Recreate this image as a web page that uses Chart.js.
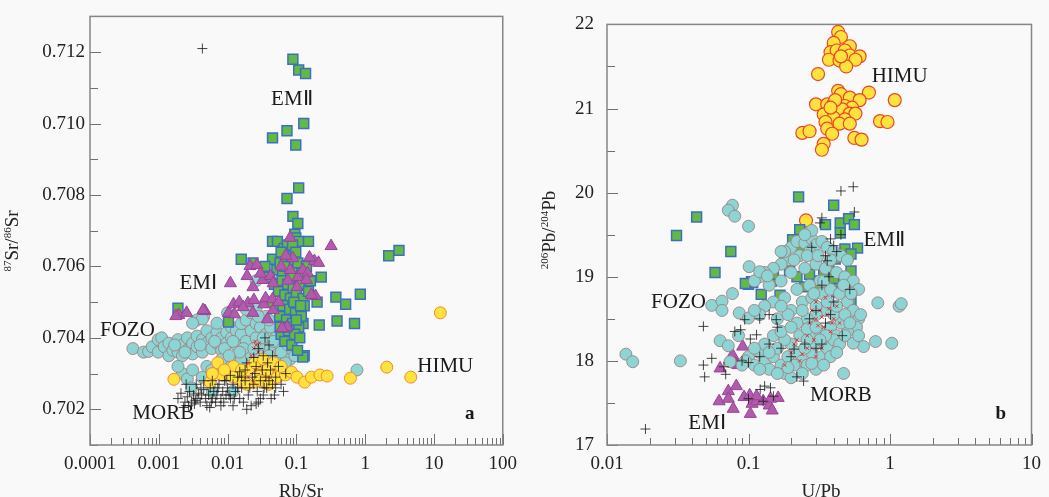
<!DOCTYPE html>
<html>
<head>
<meta charset="utf-8">
<script src="https://cdn.jsdelivr.net/npm/chart.js@4.4.1/dist/chart.umd.min.js"></script>
<style>
  html, body { margin: 0; padding: 0; background: #f9f9f9; }
  #wrap { position: relative; width: 1049px; height: 497px; overflow: hidden; }
  canvas { position: absolute; top: 0; }
</style>
</head>
<body>
<div id="wrap">
  <canvas id="srChart" width="525" height="497" style="left:0"></canvas>
  <canvas id="pbChart" width="524" height="497" style="left:525px"></canvas>
</div>
<script>
// ---- panel a : Rb/Sr vs 87Sr/86Sr ----
const srXTicks = [0.0001, 0.001, 0.01, 0.1, 1, 10, 100];
const srYTicks = [0.702, 0.704, 0.706, 0.708, 0.710, 0.712];

const srEM2 = [
  [0.089,0.7118],[0.108,0.7115],[0.136,0.7114],[0.128,0.7100],[0.073,0.7098],[0.045,0.7096],[0.098,0.7094],
  [0.108,0.7082],[0.073,0.7079],[0.089,0.7074],[0.105,0.7072],[0.095,0.7069],[0.098,0.7068],[0.045,0.7067],
  [0.053,0.7067],[0.108,0.7067],[0.150,0.7067],[0.0158,0.7062],[0.0234,0.7061],[2.2,0.7063],[3.1,0.70645],
  [0.23,0.7057],[0.375,0.70514],[0.52,0.70494],[0.85,0.70522],[0.39,0.70447],[0.70,0.7044],[0.215,0.70436],
  [0.125,0.7044],[0.0103,0.70444],[0.0019,0.70483],[0.20,0.7050],[0.13,0.7035],[0.124,0.70346],[0.105,0.70413],
  [0.045,0.7062],[0.052,0.7059],[0.058,0.7061],[0.063,0.7058],[0.07,0.7062],[0.078,0.7060],[0.085,0.7063],
  [0.095,0.7059],[0.105,0.7061],[0.12,0.7058],[0.048,0.7055],[0.055,0.7053],[0.062,0.7056],[0.068,0.7052],
  [0.075,0.7055],[0.082,0.7051],[0.09,0.7054],[0.1,0.7052],[0.11,0.7055],[0.125,0.7051],[0.05,0.7049],
  [0.057,0.7046],[0.064,0.7049],[0.072,0.7045],[0.08,0.7048],[0.088,0.7044],[0.097,0.7047],[0.108,0.7043],
  [0.118,0.7046],[0.13,0.7049],[0.06,0.7041],[0.068,0.7039],[0.077,0.7042],[0.086,0.7038],[0.094,0.7041],
  [0.104,0.70365],[0.112,0.7040],[0.066,0.7065],[0.074,0.7066],[0.088,0.7066],[0.098,0.7064],[0.06,0.7064],
  [0.04,0.7057],[0.042,0.7050],[0.15,0.7053],[0.14,0.7060],[0.16,0.7056],[0.035,0.7060],
  [0.067,0.7060],[0.083,0.7057],[0.092,0.7050],[0.072,0.7043],[0.1,0.7045],[0.115,0.7049],[0.058,0.7043]
];
const srEM1 = [
  [0.081,0.7068],[0.32,0.70657],[0.0212,0.70601],[0.0267,0.70604],[0.011,0.70553],[0.0192,0.70573],
  [0.0234,0.70542],[0.0324,0.70562],[0.042,0.70573],[0.046,0.70553],[0.089,0.70623],[0.081,0.7059],
  [0.105,0.7057],[0.124,0.7059],[0.146,0.70581],[0.183,0.70615],[0.21,0.7061],[0.102,0.70542],[0.14,0.70562],
  [0.19,0.70517],[0.00195,0.70464],[0.00254,0.7047],[0.0047,0.70475],[0.0103,0.7047],[0.0126,0.70466],
  [0.0122,0.70494],[0.0148,0.705],[0.0198,0.70497],[0.0241,0.70506],[0.0335,0.70494],[0.0357,0.70511],
  [0.045,0.70508],[0.0234,0.7047],[0.046,0.70478],[0.038,0.70452],[0.073,0.7043],[0.0169,0.70486],
  [0.0044,0.70478],[0.00177,0.70461],[0.155,0.70625],[0.062,0.70427],[0.165,0.7052],[0.03,0.7058],
  [0.06,0.7060],[0.075,0.7056],[0.07,0.7063],[0.055,0.7050]
];
const srFOZO = [
  [0.00042,0.7037],[0.0006,0.7036],[0.00071,0.70362],[0.0008,0.70375],[0.00098,0.70395],[0.00098,0.7036],
  [0.0011,0.7040],[0.0012,0.70375],[0.0014,0.70385],[0.0014,0.7035],[0.0016,0.70365],[0.0019,0.70395],
  [0.0019,0.7036],[0.0022,0.7038],[0.0022,0.7035],[0.0026,0.70365],[0.0026,0.7040],[0.0031,0.70385],
  [0.0031,0.70355],[0.0036,0.70375],[0.0036,0.70405],[0.0043,0.70395],[0.0043,0.7036],[0.005,0.70385],
  [0.005,0.7042],[0.0059,0.704],[0.0059,0.7037],[0.007,0.70415],[0.007,0.70385],[0.0082,0.7040],
  [0.0082,0.70365],[0.0097,0.70415],[0.0097,0.70385],[0.0114,0.7043],[0.0114,0.704],[0.0134,0.7042],
  [0.0134,0.7038],[0.0158,0.7041],[0.0158,0.7044],[0.0186,0.7039],[0.0186,0.7045],[0.022,0.7042],
  [0.022,0.7047],[0.026,0.7040],[0.026,0.7044],[0.03,0.7043],[0.03,0.7038],[0.036,0.7041],[0.036,0.7046],
  [0.042,0.7043],[0.042,0.7037],[0.05,0.704],[0.05,0.7035],[0.058,0.7038],[0.069,0.7036],[0.081,0.7034],
  [0.095,0.7035],[0.01,0.7047],[0.0036,0.7045],[0.0045,0.7046],[0.0022,0.7030],[0.0019,0.7032],
  [0.0026,0.70285],[0.0031,0.7031],[0.0043,0.7029],[0.005,0.7032],[0.0059,0.7031],[0.007,0.70305],
  [0.0097,0.7030],[0.0134,0.7031],[0.0186,0.7031],[0.026,0.70325],[0.036,0.7033],[0.05,0.7032],
  [0.069,0.7033],[0.0114,0.70335],[0.0158,0.7034],[0.022,0.7035],[0.03,0.7035],[0.0082,0.7034],
  [0.76,0.7031],[0.003,0.7026],[0.006,0.7025],[0.012,0.7025],[0.026,0.7056],[0.0186,0.7048],
  [0.026,0.7048],[0.0043,0.70453],[0.0031,0.70441],[0.007,0.70441],
  [0.0017,0.7038],[0.0024,0.7036],[0.004,0.7038],[0.0065,0.7039],[0.009,0.7037],[0.012,0.7039],
  [0.017,0.7037],[0.024,0.7037],[0.033,0.7040],[0.046,0.7039],[0.06,0.7036],[0.075,0.7038],[0.04,0.7035],
  [0.015,0.7036],[0.0105,0.7035],[0.028,0.7046],[0.04,0.7045]
];
const srHIMU = [
  [0.00166,0.70284],[0.0072,0.7033],[0.0056,0.70276],[0.0122,0.7032],[0.0082,0.70296],[0.0158,0.7028],
  [0.0234,0.70324],[0.029,0.7033],[0.042,0.70324],[0.03,0.7030],[0.045,0.7030],[0.026,0.70276],
  [0.036,0.70276],[0.053,0.7029],[0.069,0.70296],[0.085,0.70304],[0.102,0.7029],[0.132,0.70276],
  [0.165,0.7029],[0.22,0.70296],[0.28,0.70293],[0.61,0.70287],[2.06,0.70318],[4.6,0.7029],[12.4,0.7047],
  [0.02,0.7031],[0.025,0.7033],[0.033,0.7034],[0.038,0.7031],[0.047,0.7033],[0.016,0.7031],[0.012,0.7029],
  [0.009,0.7031],[0.006,0.7030],[0.03,0.7028],[0.04,0.7027],[0.06,0.7032],[0.019,0.7027]
];
const srMORB = [
  [0.0019,0.7023],[0.0021,0.70245],[0.0024,0.7022],[0.0026,0.70235],[0.0028,0.7025],[0.003,0.7022],
  [0.0032,0.7024],[0.0034,0.70225],[0.0036,0.7023],[0.0038,0.70245],[0.004,0.7022],[0.0042,0.7024],
  [0.0045,0.70255],[0.0048,0.7023],[0.005,0.7021],[0.0053,0.7024],[0.0056,0.7026],[0.006,0.7023],
  [0.0063,0.7025],[0.0067,0.7022],[0.007,0.7024],[0.0075,0.7027],[0.008,0.7023],[0.0085,0.7025],
  [0.009,0.7028],[0.0095,0.7024],[0.01,0.7026],[0.011,0.7023],[0.012,0.7027],[0.013,0.7025],[0.014,0.7029],
  [0.015,0.7023],[0.016,0.7026],[0.018,0.7028],[0.02,0.7024],[0.022,0.7021],[0.024,0.7027],[0.025,0.7030],
  [0.027,0.7025],[0.03,0.7028],[0.032,0.7031],[0.034,0.7026],[0.036,0.7029],[0.038,0.7033],[0.04,0.7028],
  [0.042,0.7031],[0.045,0.7027],[0.048,0.7024],[0.05,0.7029],[0.055,0.7032],[0.033,0.7035],[0.028,0.7037],
  [0.04,0.7038],[0.045,0.7035],[0.035,0.7040],[0.024,0.70345],[0.0035,0.7027],[0.0045,0.7028],[0.006,0.7028],
  [0.0025,0.7027],[0.0023,0.70205],[0.017,0.7022],[0.019,0.7020],[0.026,0.70215],[0.012,0.7021],
  [0.008,0.7021],[0.0055,0.70205],[0.03,0.7023],[0.0043,0.7121],[0.06,0.7027],[0.07,0.7030],[0.026,0.7032],
  [0.018,0.7031],[0.015,0.70305],[0.011,0.70295],
  [0.0027,0.7021],[0.0033,0.70215],[0.0041,0.7026],[0.0058,0.7022],[0.0072,0.7026],[0.0088,0.7022],
  [0.0105,0.7024],[0.0125,0.7023],[0.014,0.7026],[0.021,0.7026],[0.023,0.7029],[0.028,0.7022],[0.033,0.7024],
  [0.037,0.7026],[0.043,0.7023],[0.05,0.7026],[0.065,0.7025],[0.019,0.7033],[0.016,0.7029],[0.0095,0.7028]
];
const srRed = [
  [0.022,0.7035],[0.024,0.7037],[0.025,0.7039],[0.027,0.7034],[0.028,0.7036],[0.03,0.7033],[0.026,0.7031],
  [0.032,0.7030],[0.035,0.7029],[0.04,0.70285],[0.045,0.7028],[0.05,0.70282],[0.023,0.7032],[0.02,0.7029],
  [0.06,0.7029],[0.015,0.7028],[0.026,0.7038],[0.029,0.70385],[0.024,0.7034]
];

// ---- panel b : U/Pb vs 206Pb/204Pb ----
const pbXTicks = [0.01, 0.1, 1, 10];
const pbYTicks = [17, 18, 19, 20, 21, 22];

const pbEM2 = [
  [0.043,19.71],[0.031,19.49],[0.075,19.30],[0.058,19.05],[0.10,18.91],[0.107,18.93],[0.123,18.79],
  [0.145,18.95],[0.226,19.95],[0.40,19.85],[0.23,19.56],[0.205,19.44],[0.25,19.45],[0.35,19.62],
  [0.445,19.64],[0.51,19.69],[0.56,19.62],[0.445,19.52],[0.235,19.30],[0.48,19.33],[0.59,19.34],
  [0.53,19.27],[0.41,19.21],[0.18,19.16],[0.15,19.03],[0.195,19.07],[0.22,19.00],[0.105,18.94],
  [0.095,18.92],[0.29,18.95],[0.34,18.86],[0.30,18.86],[0.44,18.94],[0.53,19.07],[0.167,18.78],
  [0.25,18.88],[0.27,19.03],[0.34,19.06],[0.40,18.98],[0.53,18.73],[0.42,18.82],[0.47,18.84],[0.37,19.12]
];
const pbEM1 = [
  [0.091,18.17],[0.077,18.03],[0.084,17.95],[0.063,17.91],[0.081,17.99],[0.072,17.64],[0.082,17.70],
  [0.062,17.52],[0.072,17.55],[0.078,17.43],[0.093,17.57],[0.102,17.59],[0.106,17.49],[0.114,17.52],
  [0.127,17.52],[0.14,17.47],[0.147,17.41],[0.162,17.56],[0.103,17.37],[0.143,17.55],[0.114,17.58],
  [0.077,18.07],[0.08,17.97]
];
const pbFOZO = [
  [0.2,19.35],[0.22,19.42],[0.25,19.4],[0.28,19.45],[0.3,19.38],[0.33,19.42],[0.36,19.35],[0.4,19.3],
  [0.45,19.25],[0.5,19.2],[0.27,19.3],[0.23,19.25],[0.19,19.2],[0.17,19.15],[0.15,19.1],[0.13,19.05],
  [0.12,19.0],[0.11,18.95],[0.14,18.9],[0.17,18.95],[0.2,19.05],[0.25,19.1],[0.3,19.15],[0.35,19.1],
  [0.42,19.05],[0.48,19.0],[0.55,18.95],[0.32,18.95],[0.27,18.9],[0.22,18.85],[0.18,18.75],[0.15,18.7],
  [0.13,18.65],[0.12,18.55],[0.16,18.5],[0.2,18.6],[0.24,18.7],[0.28,18.75],[0.33,18.8],[0.38,18.85],
  [0.44,18.8],[0.5,18.7],[0.55,18.6],[0.6,18.5],[0.58,18.4],[0.5,18.35],[0.45,18.45],[0.4,18.55],
  [0.35,18.6],[0.3,18.55],[0.26,18.5],[0.22,18.45],[0.27,18.3],[0.32,18.35],[0.38,18.4],[0.42,18.3],
  [0.48,18.55],[0.52,18.45],[0.36,18.7],[0.3,18.65],
  [0.1,18.05],[0.11,17.95],[0.12,18.1],[0.13,18.0],[0.14,17.9],[0.15,18.05],[0.16,18.15],[0.17,17.95],
  [0.18,17.85],[0.19,18.05],[0.2,18.2],[0.22,18.1],[0.24,18.0],[0.26,17.95],[0.28,18.1],[0.3,18.2],
  [0.33,18.05],[0.36,18.15],[0.4,18.25],[0.44,18.2],[0.48,18.3],[0.3,17.9],[0.24,17.85],[0.2,17.8],
  [0.16,17.85],[0.13,18.2],[0.11,18.15],[0.095,18.0],[0.09,17.95],[0.18,18.25],[0.23,18.3],[0.26,18.25],
  [0.35,18.3],[0.32,18.25],[0.25,18.15],
  [0.0136,18.08],[0.0152,17.99],[0.033,18.0],[0.077,19.85],[0.072,19.79],[0.08,19.72],[0.10,19.6],
  [0.055,18.66],[0.065,18.71],[0.065,18.6],[0.077,18.8],[0.063,18.24],[0.072,18.18],[0.086,18.57],
  [0.10,18.51],[0.11,18.6],[0.101,19.12],[0.12,19.06],[0.136,19.01],[0.074,17.99],[0.47,17.85],
  [0.79,18.23],[1.03,18.21],[0.65,18.17],[0.55,18.21],[1.16,18.65],[1.2,18.68],[0.82,18.69],[0.18,19.3],
  [0.17,19.3],[0.28,19.55],[0.25,19.5],[0.6,18.85],[0.62,18.55],[0.6,18.3],[0.085,18.3],
  [0.21,19.2],[0.26,19.25],[0.31,19.25],[0.38,19.2],[0.34,18.95],[0.29,18.8],[0.24,18.6],[0.19,18.55],
  [0.17,18.65],[0.42,18.65],[0.47,18.9],[0.53,18.8],[0.15,18.3],[0.17,18.35],[0.2,18.4],[0.14,18.1],
  [0.21,17.95],[0.28,17.97],[0.38,18.05],[0.42,18.1],[0.34,17.95],[0.26,18.38],[0.3,18.4],[0.12,17.9],
  [0.19,17.92]
];
const pbHIMU = [
  [0.43,21.91],[0.45,21.85],[0.40,21.78],[0.52,21.74],[0.38,21.67],[0.42,21.69],[0.48,21.69],[0.52,21.63],
  [0.61,21.62],[0.37,21.58],[0.44,21.57],[0.57,21.58],[0.49,21.50],[0.31,21.41],[0.45,21.62],
  [0.43,21.21],[0.45,21.17],[0.52,21.13],[0.71,21.19],[1.08,21.10],[0.61,21.10],[0.30,21.05],[0.36,21.05],
  [0.40,21.06],[0.48,21.03],[0.54,21.01],[0.39,20.98],[0.46,20.99],[0.34,20.93],[0.52,20.94],[0.57,20.94],
  [0.40,20.89],[0.48,20.87],[0.35,20.84],[0.44,20.82],[0.52,20.82],[0.85,20.85],[0.96,20.84],[0.36,20.76],
  [0.39,20.70],[0.24,20.71],[0.27,20.73],[0.56,20.65],[0.63,20.63],[0.34,20.58],[0.33,20.51],[0.41,21.10],
  [0.38,21.01],[0.255,19.67]
];
const pbMORB = [
  [0.45,20.02],[0.55,20.07],[0.33,19.70],[0.56,19.77],[0.45,19.50],[0.40,19.37],[0.32,19.64],[0.0187,17.19],
  [0.048,18.41],[0.048,17.95],[0.049,17.81],[0.055,18.03],[0.067,17.93],[0.069,17.84],[0.088,18.37],
  [0.094,18.49],[0.114,18.31],[0.103,18.26],[0.121,17.66],[0.143,17.68],[0.127,17.52],[0.157,18.49],
  [0.21,18.14],[0.22,17.81],[0.245,17.76],[0.52,18.85],[0.36,19.19],[0.27,18.5],[0.3,18.6],[0.35,18.45],
  [0.38,18.55],[0.4,18.7],[0.33,18.9],[0.37,19.0],[0.42,19.3],[0.3,18.15],[0.2,18.05],[0.17,18.15],
  [0.14,18.2],[0.12,18.05],[0.25,18.2],[0.14,18.55],[0.12,18.5],[0.16,18.4],[0.1,17.98],[0.09,18.0],
  [0.08,18.35],[0.13,17.7],[0.15,17.58],[0.1,17.55],[0.28,19.35],[0.35,19.25],[0.38,19.45],[0.33,18.2],
  [0.46,18.3]
];
const pbRed = [
  [0.27,18.45],[0.3,18.5],[0.32,18.6],[0.34,18.4],[0.36,18.55],[0.38,18.35],[0.4,18.5],[0.42,18.65],
  [0.3,18.7],[0.35,18.75],[0.26,18.3],[0.2,18.1],[0.23,18.0],[0.26,18.15],[0.3,18.05],[0.18,17.95],
  [0.33,18.15],[0.22,18.25],[0.44,18.45],[0.28,18.6],[0.31,18.42],[0.37,18.62],[0.33,18.52],[0.29,18.25],
  [0.24,18.08],[0.21,18.2],[0.39,18.45]
];

const toPts = a => a.map(p => ({ x: p[0], y: p[1] }));
const serif = '"Liberation Serif", "Times New Roman", serif';

function scatterSet(data, style, radius, fill, stroke, width, order) {
  return {
    data: toPts(data), pointStyle: style, pointRadius: radius, pointHoverRadius: radius,
    backgroundColor: fill, borderColor: stroke, borderWidth: width, order: order
  };
}

function drawSupText(ctx, parts, size, supSize) {
  let total = 0;
  parts.forEach(p => {
    ctx.font = (p.sup ? supSize : size) + 'px ' + serif;
    p.w = ctx.measureText(p.t).width;
    total += p.w;
  });
  let x = -total / 2;
  parts.forEach(p => {
    ctx.font = (p.sup ? supSize : size) + 'px ' + serif;
    ctx.fillText(p.t, x, p.sup ? -7 : 0);
    x += p.w;
  });
}

function makePanel(id, cfg) {
  const decor = {
    id: 'decor',
    beforeDraw(chart) {
      const ctx = chart.ctx;
      ctx.save();
      ctx.fillStyle = '#f9f9f9';
      ctx.fillRect(0, 0, chart.width, chart.height);
      ctx.restore();
    },
    afterDatasetsDraw(chart) {
      const ctx = chart.ctx, a = chart.chartArea;
      const xs = chart.scales.x, ys = chart.scales.y;
      ctx.save();
      // ticks pointing inward
      ctx.strokeStyle = '#707070';
      ctx.lineWidth = 1;
      ctx.beginPath();
      const d0 = Math.round(Math.log10(cfg.xMin)), d1 = Math.round(Math.log10(cfg.xMax));
      for (let d = d0; d <= d1; d++) {
        for (let m = 1; m <= 9; m++) {
          const v = m * Math.pow(10, d);
          if (v < cfg.xMin * 0.999 || v > cfg.xMax * 1.001) continue;
          const px = Math.round(xs.getPixelForValue(v)) + 0.5;
          ctx.moveTo(px, a.bottom);
          ctx.lineTo(px, a.bottom - (m === 1 ? 11 : 7));
        }
      }
      for (let v = cfg.yMin; v <= cfg.yMax + 1e-9; v += cfg.yMinorStep) {
        const py = Math.round(ys.getPixelForValue(v)) + 0.5;
        const major = cfg.yTicks.some(t => Math.abs(t - v) < cfg.yMinorStep / 10);
        ctx.moveTo(a.left, py);
        ctx.lineTo(a.left + (major ? 11 : 8), py);
      }
      ctx.stroke();
      // frame
      ctx.strokeStyle = '#858585';
      ctx.lineWidth = 1.5;
      ctx.strokeRect(a.left, a.top, a.right - a.left, a.bottom - a.top);
      // group labels
      ctx.fillStyle = '#1a1a1a';
      ctx.textAlign = 'center';
      ctx.textBaseline = 'middle';
      cfg.labels.forEach(l => {
        ctx.font = (l.bold ? 'bold ' : '') + (l.size || 21) + 'px ' + serif;
        ctx.fillText(l.t, xs.getPixelForValue(l.x), ys.getPixelForValue(l.y));
      });
      // axis titles
      ctx.fillStyle = '#222';
      ctx.font = '19px ' + serif;
      ctx.textBaseline = 'alphabetic';
      ctx.fillText(cfg.xTitle, cfg.xTitlePos[0], cfg.xTitlePos[1]);
      ctx.translate(cfg.yTitlePos[0], cfg.yTitlePos[1]);
      ctx.rotate(-Math.PI / 2);
      ctx.textAlign = 'left';
      drawSupText(ctx, cfg.yTitle, 19, 11);
      ctx.restore();
    }
  };

  return new Chart(document.getElementById(id), {
    type: 'scatter',
    data: { datasets: cfg.datasets },
    options: {
      responsive: false,
      animation: false,
      devicePixelRatio: 1,
      events: [],
      layout: { padding: { top: 15, right: cfg.padRight, left: 0, bottom: 0 } },
      plugins: { legend: { display: false }, tooltip: { enabled: false } },
      scales: {
        x: {
          type: 'logarithmic', min: cfg.xMin, max: cfg.xMax,
          grid: { display: false, drawTicks: false }, border: { display: false },
          afterBuildTicks: s => { s.ticks = cfg.xTicks.map(v => ({ value: v, major: true })); },
          afterFit: s => { s.height = 52; },
          ticks: {
            autoSkip: false, maxRotation: 0, padding: 8, color: '#222',
            font: { family: serif, size: 19 },
            callback: v => String(v)
          }
        },
        y: {
          type: 'linear', min: cfg.yMin, max: cfg.yMax,
          grid: { display: false, drawTicks: false }, border: { display: false },
          afterBuildTicks: s => { s.ticks = cfg.yTicks.map(v => ({ value: v })); },
          afterFit: s => { s.width = cfg.yAxisWidth; },
          ticks: {
            autoSkip: false, padding: cfg.yPad, color: '#222',
            font: { family: serif, size: 19 },
            callback: v => cfg.yFmt(v)
          }
        }
      }
    },
    plugins: [decor]
  });
}

const cyanFill = 'rgb(141,212,212)', cyanLine = 'rgba(160,130,130,0.9)';
const yellowFill = 'rgb(255,226,60)';
const greenFill = 'rgb(98,186,66)', greenLine = 'rgb(60,110,200)';
const purpleFill = 'rgb(178,90,172)', purpleLine = 'rgb(150,70,150)';
const crossLine = 'rgba(25,25,25,0.8)';

makePanel('srChart', {
  xMin: 0.0001, xMax: 100, yMin: 0.701, yMax: 0.713, yMinorStep: 0.001,
  xTicks: srXTicks, yTicks: srYTicks, yFmt: v => v.toFixed(3),
  yAxisWidth: 90, yPad: 5, padRight: 12,
  xTitle: 'Rb/Sr', xTitlePos: [301, 497], yTitlePos: [18, 241],
  yTitle: [{ t: '87', sup: true }, { t: 'Sr/' }, { t: '86', sup: true }, { t: 'Sr' }],
  labels: [
    { t: 'EMⅡ', x: 0.086, y: 0.71066 },
    { t: 'EMⅠ', x: 0.00375, y: 0.70553 },
    { t: 'FOZO', x: 0.00035, y: 0.70422 },
    { t: 'HIMU', x: 14.6, y: 0.70321 },
    { t: 'MORB', x: 0.00116, y: 0.70189 },
    { t: 'a', x: 33, y: 0.70186, bold: true, size: 19 }
  ],
  datasets: [
    scatterSet(srMORB, 'cross', 5, crossLine, crossLine, 1, 0),
    scatterSet(srEM1, 'triangle', 7, purpleFill, purpleLine, 1, 1),
    scatterSet(srEM2, 'rect', 7, greenFill, greenLine, 1.5, 2),
    scatterSet(srHIMU, 'circle', 6, yellowFill, 'rgb(240,140,50)', 1, 3),
    scatterSet(srRed, 'crossRot', 2.5, 'rgba(230,30,30,0.85)', 'rgba(230,30,30,0.85)', 1, 4),
    scatterSet(srFOZO, 'circle', 6, cyanFill, cyanLine, 1, 5)
  ]
});

makePanel('pbChart', {
  xMin: 0.01, xMax: 10, yMin: 17, yMax: 22, yMinorStep: 0.5,
  xTicks: pbXTicks, yTicks: pbYTicks, yFmt: v => String(v),
  yAxisWidth: 82, yPad: 13, padRight: 14,
  xTitle: 'U/Pb', xTitlePos: [296, 497], yTitlePos: [30, 230],
  yTitle: [{ t: '206', sup: true }, { t: 'Pb/' }, { t: '204', sup: true }, { t: 'Pb' }],
  labels: [
    { t: 'HIMU', x: 1.17, y: 21.38 },
    { t: 'EMⅡ', x: 0.91, y: 19.43 },
    { t: 'FOZO', x: 0.032, y: 18.70 },
    { t: 'MORB', x: 0.45, y: 17.59 },
    { t: 'EMⅠ', x: 0.051, y: 17.26 },
    { t: 'b', x: 6.07, y: 17.37, bold: true, size: 19 }
  ],
  datasets: [
    scatterSet(pbMORB, 'cross', 5, crossLine, crossLine, 1, 0),
    scatterSet(pbRed, 'crossRot', 2.5, 'rgba(230,30,30,0.85)', 'rgba(230,30,30,0.85)', 1, 1),
    scatterSet(pbFOZO, 'circle', 6, cyanFill, cyanLine, 1, 2),
    scatterSet(pbEM2, 'rect', 7, greenFill, greenLine, 1.5, 3),
    scatterSet(pbEM1, 'triangle', 7, purpleFill, purpleLine, 1, 4),
    scatterSet(pbHIMU, 'circle', 6.5, yellowFill, 'rgb(235,70,40)', 1.2, 5)
  ]
});
</script>
</body>
</html>
